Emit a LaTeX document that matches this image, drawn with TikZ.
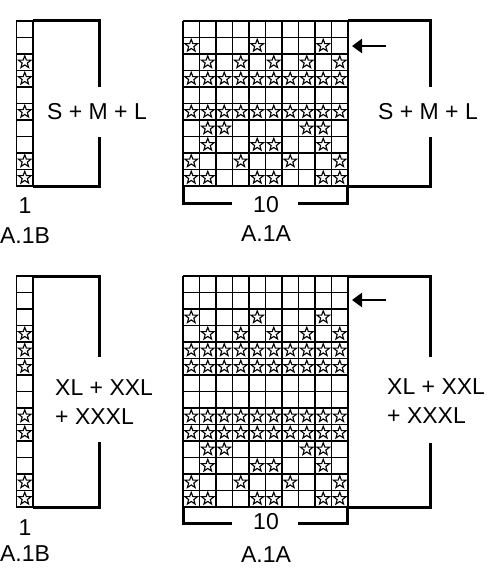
\documentclass[tikz,border=0pt]{standalone}
\usepackage{fontspec}
\setmainfont{Liberation Sans}
\usetikzlibrary{arrows.meta}
\usetikzlibrary{shapes.geometric}
\usetikzlibrary{positioning}
\tikzset{
	cellline/.style={line width=1.5pt},
	bracket/.style={line width=3pt},
	starmark/.style={star, star points=5, star point ratio=2.4, draw, line width=1.1pt, minimum size=13pt, inner sep=0pt},
	lbl/.style={font=\fontsize{23}{29}\selectfont, inner sep=0pt},
	rowarrow/.style={line width=2.8pt, -{Triangle[length=10pt,width=14pt]}},
}

\begin{document}
\begin{tikzpicture}[x=1pt,y=-1pt]
				\useasboundingbox (0,0) rectangle (500,578);
				% ---- top charts (S + M + L) ----
				% A.1B column
				\draw[cellline] (16.5,21) rectangle (33,186);
				\foreach \j in {1,...,9} \draw[cellline] (16.5,{21+16.5*\j}) -- (33,{21+16.5*\j});
				\foreach \r in {3,4,6,9,10} \node[starmark] (tb\r) at (24.75,{21+16.5*(\r-0.5)}) {};
				% A.1A grid
				\foreach \i in {0,...,10} \draw[cellline] ({183+16.5*\i},21) -- ({183+16.5*\i},186);
				\foreach \j in {0,...,10} \draw[cellline] (183,{21+16.5*\j}) -- (348,{21+16.5*\j});
				\foreach \r/\cols in {2/{1,5,9}, 3/{2,4,6,8,10}, 4/{1,...,10}, 6/{1,...,10}, 7/{2,3,8,9}, 8/{2,5,6,9}, 9/{1,4,7,10}, 10/{1,2,5,6,9,10}}
					\foreach \c in \cols \node[starmark] (ta\r-\c) at ({183+16.5*(\c-0.5)},{21+16.5*(\r-0.5)}) {};
				% brackets
				\draw[bracket] (33,21) -- (99,21) -- (99,87);
				\draw[bracket] (99,137) -- (99,186) -- (33,186);
				\node[lbl] (sizesTB) at (97,112) {S + M + L};
				\draw[bracket] (348,21) -- (430,21) -- (430,87);
				\draw[bracket] (430,137) -- (430,186) -- (348,186);
				\node[lbl] (sizesTA) at (428,112) {S + M + L};
				\draw[bracket] (232,203) -- (183,203) -- (183,186);
				\draw[bracket] (298,203) -- (347,203) -- (347,186);
				\node[lbl] (colsTA) at (266,205) {10};
				\node[lbl, below=12pt of colsTA] (nameTA) {A.1A};
				\node[lbl] (colsTB) at (25,206) {1};
				\node[lbl, below=13pt of colsTB] (nameTB) {A.1B};
				% arrow
				\coordinate (arrTs) at (386,46);
				\coordinate (arrTe) at (352,46);
				\draw[rowarrow] (arrTs) -- (arrTe);
				% ---- bottom charts (XL + XXL + XXXL) ----
				% A.1B column
				\draw[cellline] (16.5,276) rectangle (33,507);
				\foreach \j in {1,...,13} \draw[cellline] (16.5,{276+16.5*\j}) -- (33,{276+16.5*\j});
				\foreach \r in {4,5,6,9,10,13,14} \node[starmark] (bb\r) at (24.75,{276+16.5*(\r-0.5)}) {};
				% A.1A grid
				\foreach \i in {0,...,10} \draw[cellline] ({183+16.5*\i},276) -- ({183+16.5*\i},507);
				\foreach \j in {0,...,14} \draw[cellline] (183,{276+16.5*\j}) -- (348,{276+16.5*\j});
				\foreach \r/\cols in {3/{1,5,9}, 4/{2,4,6,8,10}, 5/{1,...,10}, 6/{1,...,10}, 9/{1,...,10}, 10/{1,...,10}, 11/{2,3,8,9}, 12/{2,5,6,9}, 13/{1,4,7,10}, 14/{1,2,5,6,9,10}}
					\foreach \c in \cols \node[starmark] (ba\r-\c) at ({183+16.5*(\c-0.5)},{276+16.5*(\r-0.5)}) {};
				% brackets
				\draw[bracket] (33,276) -- (99,276) -- (99,357);
				\draw[bracket] (99,442) -- (99,507) -- (33,507);
				\node[lbl, anchor=west, align=left] (sizesBB) at (55,402) {XL + XXL\\+ XXXL};
				\draw[bracket] (348,276) -- (430,276) -- (430,357);
				\draw[bracket] (430,443) -- (430,507) -- (348,507);
				\node[lbl, anchor=west, align=left] (sizesBA) at (387,401) {XL + XXL\\+ XXXL};
				\draw[bracket] (232,523) -- (183,523) -- (183,507);
				\draw[bracket] (298,523) -- (347,523) -- (347,507);
				\node[lbl] (colsBA) at (266,522) {10};
				\node[lbl, below=16pt of colsBA] (nameBA) {A.1A};
				\node[lbl] (colsBB) at (25,528) {1};
				\node[lbl, below=9pt of colsBB] (nameBB) {A.1B};
				% arrow
				\coordinate (arrBs) at (386,300);
				\coordinate (arrBe) at (352,300);
				\draw[rowarrow] (arrBs) -- (arrBe);
			\end{tikzpicture}
\end{document}
